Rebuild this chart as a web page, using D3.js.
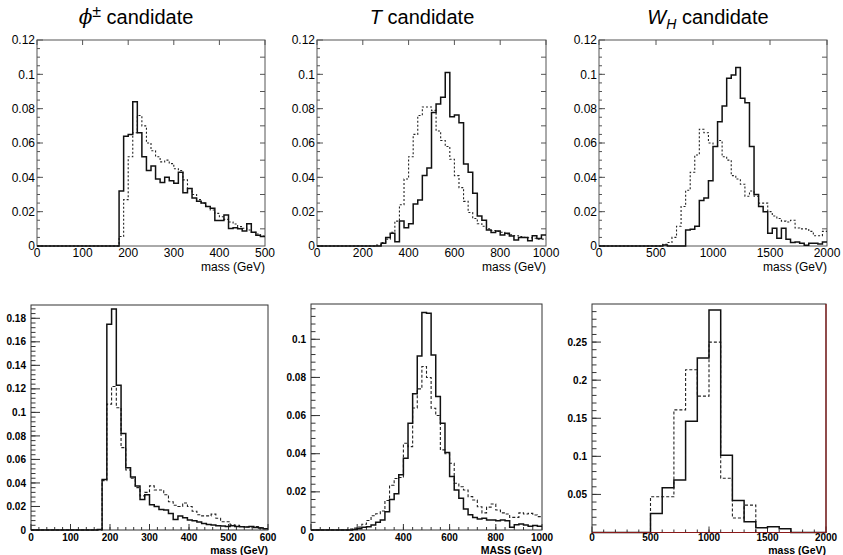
<!DOCTYPE html>
<html>
<head>
<meta charset="utf-8">
<script src="https://cdn.jsdelivr.net/npm/d3@7"></script>
<style>
body { margin: 0; background: #fff; }
svg { font-family: "Liberation Sans", Arial, sans-serif; }
</style>
</head>
<body>
<div id="chart"></div>
<script>
/*
DATA (normalised mass distributions)
*/
const phiTopSolid = [0,0,0,0,0,0,0,0,0,0,0,0,0,0,0,0,0,0,
    0.032,0.064,0.065,0.084,0.066,0.052,0.044,0.0466,0.039,0.037,0.040,0.038,0.0365,0.043,
    0.031,0.0335,0.028,0.026,0.025,0.023,0.022,0.0148,0.0148,0.018,0.0102,0.0107,0.0100,0.0087,
    0.013,0.008,0.0062,0.0055];
const phiTopDashed = [0,0,0,0,0,0,0,0,0,0,0,0,0,0,0,0,0,0,
    0.0055,0.027,0.052,0.066,0.076,0.070,0.060,0.0555,0.052,0.049,0.050,0.048,0.045,0.044,
    0.0385,0.0335,0.030,0.027,0.025,0.023,0.021,0.019,0.017,0.0155,0.014,0.0128,0.0113,0.0103,
    0.0093,0.008,0.007,0.0058];

const tTopSolid = [0,0,0,0,0,0,0,0,0,0,0,0,0,0,
    0.0016,0.005,0.0075,0.0025,0.0145,0.0107,0.013,0.0245,0.0268,0.041,0.0455,0.0777,0.0827,0.0866,
    0.101,0.0753,0.0763,0.0718,0.0478,0.043,0.0307,0.0175,0.015,0.0093,0.0078,0.0087,0.0064,0.0074,
    0.0058,0.0035,0.005,0.005,0.003,0.006,0.0043,0.0064];
const tTopDashed = [0,0,0,0,0,0,0,0,0,0,0,0,0,
    0.0005,0.002,0.004,0.008,0.0145,0.024,0.039,0.052,0.065,0.076,0.081,0.081,0.079,0.067,0.0615,
    0.058,0.0505,0.041,0.034,0.026,0.0195,0.016,0.013,0.0115,0.010,0.009,0.0085,0.008,0.007,
    0.0065,0.006,0.0055,0.005,0.0048,0.0045,0.004,0.004];

const wTopSolid = [0,0,0,0,0,0,0,0,0,0,0,0,0,0,
    0.0006,0,0,0,0,0.0093,0.0097,0.0115,0.0265,0.028,0.038,0.058,0.0724,0.0816,0.0977,0.0996,
    0.104,0.086,0.0835,0.058,0.030,0.023,0.020,0.0074,0.0103,0.0045,0.0103,0.004,0.002,0.0023,
    0.0016,0.0004,0.0016,0.0016,0.0012,0.0023];
const wTopDashed = [0,0,0,0,0,0,0,0,0,0,0,0,0,0,
    0.001,0.002,0.005,0.0115,0.023,0.0325,0.043,0.053,0.068,0.066,0.060,0.058,0.0615,0.052,0.050,
    0.041,0.039,0.036,0.029,0.032,0.029,0.025,0.025,0.020,0.0175,0.016,0.0145,0.014,0.015,0.0105,
    0.010,0.010,0.0085,0.006,0.006,0.0085];

const phiBotSolid = [0,0,0,0,0,0,0,0,0,0,0,0,0,0,
    0.0005,0.043,0.175,0.188,0.123,0.082,0.053,0.045,0.0375,0.026,0.030,0.0215,0.020,0.0175,0.017,
    0.014,0.009,0.012,0.0105,0.0086,0.0078,0.0067,0.0056,0.0047,0.0042,0.0036,0.0033,0.003,0.0036,
    0.003,0.0028,0.0025,0.003,0.0022,0.0017,0.001];
const phiBotDashed = [0,0,0,0,0,0,0,0,0,0,0,0,0,0,0,
    0.042,0.107,0.122,0.104,0.070,0.051,0.044,0.036,0.029,0.032,0.0375,0.034,0.034,0.030,0.024,
    0.021,0.020,0.023,0.020,0.016,0.013,0.012,0.012,0.0135,0.010,0.007,0.007,0.0045,0.004,0.003,
    0.0025,0.0025,0.003,0.002,0.001];

const tBotSolid = [0,0,0,0,0,0,0,0,0,
    0.0003,0.0007,0.0014,0.0017,0.0026,0.004,0.0052,0.0096,0.016,0.019,0.029,0.0376,0.056,0.0715,
    0.0913,0.114,0.1136,0.0918,0.070,0.056,0.0407,0.028,0.021,0.0166,0.011,0.008,0.0066,0.0058,
    0.0062,0.0052,0.0052,0.0048,0.0052,0.0048,0.0014,0.0028,0.0032,0.0026,0.002,0.0024,0.002];
const tBotDashed = [0,0,0,0,0,0,0,0,
    0.0005,0.001,0.0015,0.003,0.005,0.0075,0.0085,0.010,0.0155,0.0235,0.027,0.0275,0.0455,0.0437,
    0.064,0.074,0.0857,0.080,0.0638,0.060,0.042,0.040,0.035,0.0245,0.0227,0.021,0.0175,0.0157,
    0.0122,0.009,0.012,0.0136,0.0105,0.009,0.0084,0.0066,0.0066,0.009,0.0084,0.0087,0.0079,0.007];

const wBotSolid = [0,0,0,0,0,0.025,0.0587,0.069,0.146,0.229,0.292,0.1015,0.042,0.014,0.0063,0.0076,0.005,0,0,0];
const wBotDashed = [0,0,0,0,0,0.047,0.047,0.161,0.2136,0.179,0.25,0.0713,0.019,0.036,0,0,0,0,0,0];

// tick labels
const yTicksTop = [0, 0.02, 0.04, 0.06, 0.08, 0.1, 0.12];
const yTicksPhiBot = [0, 0.02, 0.04, 0.06, 0.08, 0.1, 0.12, 0.14, 0.16, 0.18];
const yTicksTBot = [0, 0.02, 0.04, 0.06, 0.08, 0.1];
const yTicksWBot = [0.05, 0.1, 0.15, 0.2, 0.25];
const xTicksPhiTop = [0, 100, 200, 300, 400, 500];
const xTicksPhiBot = [0, 100, 200, 300, 400, 500, 600];
const xTicksT = [0, 200, 400, 600, 800, 1000];
const xTicksW = [0, 500, 1000, 1500, 2000];

/*
CANVAS
*/
const width = 843;
const height = 555;

const svg = d3.select("#chart")
    .append("svg")
    .attr("width", width)
    .attr("height", height);

const panels = [
    {frame:{l:37, r:265, t:40, b:246}, x:[0,500], yMax:0.12, solid:phiTopSolid, dashed:phiTopDashed,
     xTicks:xTicksPhiTop, yTicks:yTicksTop, yMinor:0.005, top:true, xLabel:"mass (GeV)", title:"phi", titleX:136},
    {frame:{l:317, r:546, t:40, b:246}, x:[0,1000], yMax:0.12, solid:tTopSolid, dashed:tTopDashed,
     xTicks:xTicksT, yTicks:yTicksTop, yMinor:0.005, top:true, xLabel:"mass (GeV)", title:"T", titleX:422},
    {frame:{l:599, r:827, t:40, b:246}, x:[0,2000], yMax:0.12, solid:wTopSolid, dashed:wTopDashed,
     xTicks:xTicksW, yTicks:yTicksTop, yMinor:0.005, top:true, xLabel:"mass (GeV)", title:"W", titleX:708},
    {frame:{l:31, r:268, t:305, b:530}, x:[0,600], yMax:0.1913, solid:phiBotSolid, dashed:phiBotDashed,
     xTicks:xTicksPhiBot, xMinor:20, yTicks:yTicksPhiBot, yMinor:0.004, top:false, xLabel:"mass (GeV)"},
    {frame:{l:311, r:542, t:304, b:530}, x:[0,1000], yMax:0.1185, solid:tBotSolid, dashed:tBotDashed,
     xTicks:xTicksT, xMinor:40, yTicks:yTicksTBot, yMinor:0.004, top:false, xLabel:"MASS (GeV)"},
    {frame:{l:592, r:826, t:304, b:532.5}, x:[0,2000], yMax:0.30, solid:wBotSolid, dashed:wBotDashed,
     xTicks:xTicksW, xMinor:100, yTicks:yTicksWBot, yMinor:0.01, top:false, xLabel:"mass (GeV)", red:true}
];

panels.forEach(function(p){
    const f = p.frame;
    const g = svg.append("g");

    const xScale = d3.scaleLinear().domain(p.x).range([f.l, f.r]);
    const yScale = d3.scaleLinear().domain([0, p.yMax]).range([f.b, f.t]);

    const fmt = function(v){ return d3.format("~r")(+v.toFixed(3)); };
    const frameColor = p.top ? "#555" : "#333";

    // frame
    g.append("rect")
        .attr("x", f.l)
        .attr("y", f.t)
        .attr("width", f.r - f.l)
        .attr("height", f.b - f.t)
        .attr("fill", "none")
        .attr("stroke", frameColor)
        .attr("stroke-width", 1);

    // minor y ticks
    const minorY = d3.range(p.yMinor, p.yMax, p.yMinor);
    g.selectAll(".ymin")
        .data(minorY)
        .enter()
        .append("line")
        .attr("x1", f.l)
        .attr("x2", f.l + (p.top ? 3 : 4.5))
        .attr("y1", function(d){ return yScale(d);})
        .attr("y2", function(d){ return yScale(d);})
        .attr("stroke", frameColor);

    // major y ticks + labels
    g.selectAll(".ymaj")
        .data(p.yTicks)
        .enter()
        .append("line")
        .attr("x1", f.l)
        .attr("x2", f.l + (p.top ? 6 : 9))
        .attr("y1", function(d){ return yScale(d);})
        .attr("y2", function(d){ return yScale(d);})
        .attr("stroke", frameColor);

    g.selectAll(".ylab")
        .data(p.yTicks)
        .enter()
        .append("text")
        .attr("x", f.l - (p.top ? 2 : 5))
        .attr("y", function(d){ return yScale(d);})
        .attr("dy", "0.36em")
        .attr("text-anchor", "end")
        .style("font-size", p.top ? "12px" : "10px")
        .style("font-weight", p.top ? "normal" : "bold")
        .text(fmt);

    // x ticks
    if (p.top) {
        g.selectAll(".xtop")
            .data(p.xTicks)
            .enter()
            .append("line")
            .attr("x1", function(d){ return xScale(d);})
            .attr("x2", function(d){ return xScale(d);})
            .attr("y1", f.t)
            .attr("y2", f.t + 5)
            .attr("stroke", frameColor);

        const rightY = d3.range(0.01, p.yMax, 0.01);
        g.selectAll(".yright")
            .data(rightY)
            .enter()
            .append("line")
            .attr("x1", f.r)
            .attr("x2", f.r - 5)
            .attr("y1", function(d){ return yScale(d);})
            .attr("y2", function(d){ return yScale(d);})
            .attr("stroke", frameColor);
    } else {
        const minorX = d3.range(p.x[0] + p.xMinor, p.x[1], p.xMinor);
        g.selectAll(".xmin")
            .data(minorX)
            .enter()
            .append("line")
            .attr("x1", function(d){ return xScale(d);})
            .attr("x2", function(d){ return xScale(d);})
            .attr("y1", f.b)
            .attr("y2", f.b - 3)
            .attr("stroke", frameColor);

        g.selectAll(".xmaj")
            .data(p.xTicks)
            .enter()
            .append("line")
            .attr("x1", function(d){ return xScale(d);})
            .attr("x2", function(d){ return xScale(d);})
            .attr("y1", f.b)
            .attr("y2", f.b - 6)
            .attr("stroke", frameColor);
    }

    // x tick labels
    g.selectAll(".xlab")
        .data(p.xTicks)
        .enter()
        .append("text")
        .attr("x", function(d){ return xScale(d);})
        .attr("y", p.top ? f.b + 11 : 541)
        .attr("text-anchor", "middle")
        .style("font-size", p.top ? "12px" : "10px")
        .style("font-weight", p.top ? "normal" : "bold")
        .text(function(d){ return d;});

    // axis title
    g.append("text")
        .attr("x", f.r)
        .attr("y", p.top ? f.b + 25 : 553.5)
        .attr("text-anchor", "end")
        .style("font-size", p.top ? "12px" : "10.5px")
        .style("font-weight", p.top ? "normal" : "bold")
        .text(p.xLabel);

    // histograms
    function histPoints(vals){
        const n = vals.length;
        const w = (p.x[1] - p.x[0]) / n;
        const pts = vals.map(function(v, i){ return [p.x[0] + i*w, v]; });
        pts.push([p.x[1], vals[n-1]]);
        return pts;
    }

    const line = d3.line()
        .x(function(d){ return xScale(d[0]);})
        .y(function(d){ return yScale(d[1]);})
        .curve(d3.curveStepAfter);

    g.append("path")
        .attr("d", line(histPoints(p.dashed)))
        .attr("fill", "none")
        .attr("stroke", "#222")
        .attr("stroke-width", 1.1)
        .attr("stroke-dasharray", p.top ? "2,2" : "3,2");

    g.append("path")
        .attr("d", line(histPoints(p.solid)))
        .attr("fill", "none")
        .attr("stroke", "#111")
        .attr("stroke-width", 1.5);

    if (p.red) {
        g.append("path")
            .attr("d", `M${f.l},${f.b}H${f.r}V${f.t}`)
            .attr("fill", "none")
            .attr("stroke", "#8b1a1a")
            .attr("stroke-width", 1.2);
    }

    // titles
    if (p.title) {
        const t = svg.append("text")
            .attr("x", p.titleX)
            .attr("y", 24)
            .attr("text-anchor", "middle")
            .style("font-size", "20px");
        if (p.title == "phi") {
            t.append("tspan").style("font-style", "italic").style("font-family", "'DejaVu Serif', serif").text("ϕ");
            t.append("tspan").attr("dy", -7).style("font-size", "16px").text("±");
            t.append("tspan").attr("dy", 7).text(" candidate");
        } else if (p.title == "T") {
            t.append("tspan").style("font-style", "italic").text("T");
            t.append("tspan").text(" candidate");
        } else {
            t.append("tspan").style("font-style", "italic").text("W");
            t.append("tspan").attr("dy", 5).style("font-size", "14px").style("font-style", "italic").text("H");
            t.append("tspan").attr("dy", -5).text(" candidate");
        }
    }
});
</script>
</body>
</html>
